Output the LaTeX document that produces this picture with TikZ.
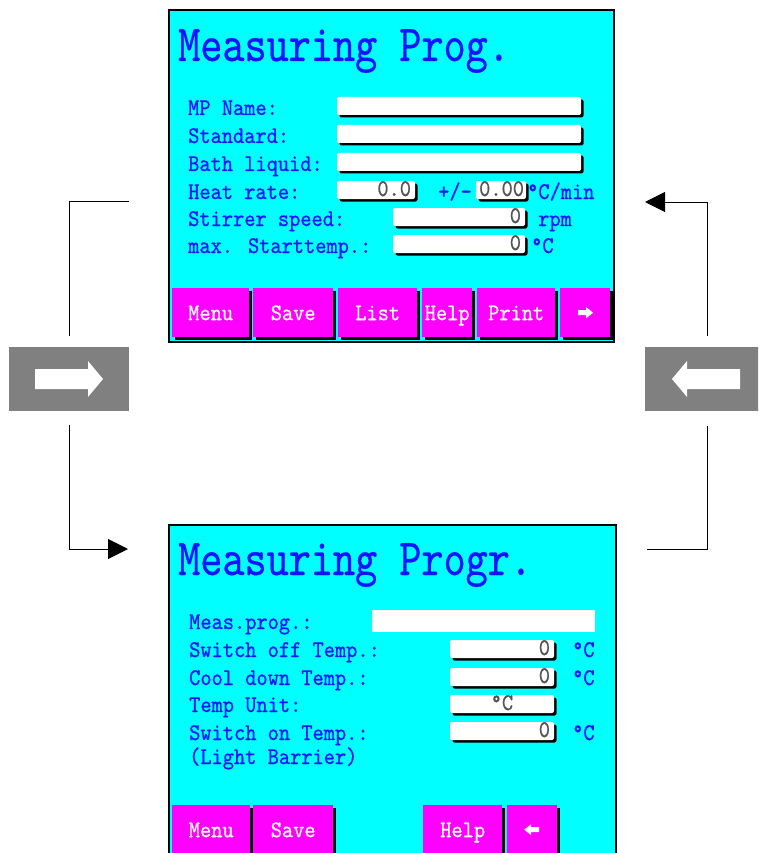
\documentclass[tikz,border=0pt]{standalone}
\usepackage{fontspec}
\newfontfamily\lcdfont{lmmono10-regular.otf}[FakeStretch=0.89, FakeBold=0.6]
\newfontfamily\lcdtitlefont{lmmono10-regular.otf}[FakeStretch=0.81, FakeBold=0.5]
\usetikzlibrary{arrows.meta,shadows}

\definecolor{lcdcyan}{RGB}{0,255,255}
\definecolor{lcdpink}{RGB}{255,0,255}
\definecolor{lcdblue}{RGB}{20,20,255}
\definecolor{keygray}{RGB}{128,128,128}
\definecolor{valgray}{RGB}{85,85,85}

\tikzset{
	screen/.style={draw=black, line width=2pt, fill=lcdcyan, anchor=north west, inner sep=0pt},
	scrtitle/.style={anchor=base west, inner sep=0pt, text=lcdblue, font=\lcdtitlefont\fontsize{52}{52}\selectfont},
	lcdtext/.style={anchor=base west, inner sep=0pt, text=lcdblue, font=\lcdfont\fontsize{24}{24}\selectfont},
	field/.style={fill=white, rounded corners=2pt, text=valgray, text width=#1, align=right,
		inner xsep=4pt, inner ysep=0pt, text height=15pt, text depth=3pt,
		font=\lcdfont\fontsize{24}{24}\selectfont,
		drop shadow={shadow xshift=2.5pt, shadow yshift=-2.5pt, fill=black, opacity=1}},
	softkey/.style={fill=lcdpink, minimum width=#1, minimum height=49pt, anchor=north west,
		inner sep=0pt, text height=15pt, text depth=0pt, text=white,
		font=\lcdfont\fontsize{24}{24}\selectfont,
		drop shadow={shadow xshift=2.5pt, shadow yshift=-2.5pt, fill=black, opacity=1}},
	navbox/.style={fill=keygray, minimum height=64pt, inner sep=0pt},
	link/.style={draw=black, line width=1pt},
	tip/.style={-{Triangle[length=20pt,width=20pt]}}
}

\begin{document}
\begin{tikzpicture}[x=1pt, y=-1pt]
		\clip (0,0) rectangle (758,853);

		\node (scrA)[screen, minimum width=445pt, minimum height=332pt] at (168,9) {};
		\node (titleA)[scrtitle] at (178,61) {Measuring Prog.};

		\node (nameA)[lcdtext] at (188,115) {MP Name:};
		\node (stdA)[lcdtext] at (188,143) {Standard:};
		\node (bathA)[lcdtext] at (188,171) {Bath liquid:};
		\node (rateA)[lcdtext] at (188,199) {Heat rate:};
		\node (stirA)[lcdtext] at (188,226) {Stirrer speed:};
		\node (startA)[lcdtext] at (188,253) {max. Starttemp.:};

		\node (fName)[field=236pt] at (459,106) {};
		\node (fStd)[field=236pt] at (459,134) {};
		\node (fBath)[field=236pt] at (459,162) {};
		\node (fRate)[field=70pt] at (376,190) {0.0};
		\node (pm)[lcdtext] at (438,199) {+/-};
		\node (fTol)[field=46pt, inner xsep=2pt] at (501,190) {0.00};
		\node (uRate)[lcdtext] at (527,199) {°C/min};
		\node (fStir)[field=124pt] at (459,217) {0};
		\node (uStir)[lcdtext] at (538,226) {rpm};
		\node (fStart)[field=124pt] at (459,244) {0};
		\node (uStart)[lcdtext] at (531,253) {°C};

		\node (menuA)[softkey=77pt] at (172,288) {Menu};
		\node (saveA)[softkey=80pt] at (253,288) {Save};
		\node (listA)[softkey=79pt] at (338,288) {List};
		\node (helpA)[softkey=50pt] at (422,288) {Help};
		\node (printA)[softkey=78pt] at (477,288) {Print};
		\node (nextA)[softkey=50pt] at (560,288) {};
		\fill [white, shift={(nextA.center)}] (-7,-2.5) -- (1,-2.5) -- (1,-5.5) -- (8,0) -- (1,5.5) -- (1,2.5) -- (-7,2.5) -- cycle;

		\node (scrB)[screen, minimum width=447pt, minimum height=340pt] at (168,524) {};
		\node (titleB)[scrtitle] at (178,575) {Measuring Progr.};

		\node (progB)[lcdtext] at (189,629) {Meas.prog.:};
		\node (offB)[lcdtext] at (189,657) {Switch off Temp.:};
		\node (coolB)[lcdtext] at (189,685) {Cool down Temp.:};
		\node (unitB)[lcdtext] at (189,712) {Temp Unit:};
		\node (onB)[lcdtext] at (189,740) {Switch on Temp.:};
		\node (barB)[lcdtext] at (189,764) {(Light Barrier)};

		\node (fProg)[fill=white, minimum width=223pt, minimum height=22pt, inner sep=0pt] at (483.5,621) {};
		\node (fOff)[field=96pt] at (502,649) {0};
		\node (uOff)[lcdtext] at (572,657) {°C};
		\node (fCool)[field=96pt] at (502,677) {0};
		\node (uCool)[lcdtext] at (572,685) {°C};
		\node (fUnit)[field=96pt, align=center] at (502,704) {°C};
		\node (fOn)[field=96pt] at (502,731) {0};
		\node (uOn)[lcdtext] at (572,740) {°C};

		\node (menuB)[softkey=78pt] at (172,805) {Menu};
		\node (saveB)[softkey=80pt] at (253,805) {Save};
		\node (helpB)[softkey=79pt] at (423,805) {Help};
		\node (prevB)[softkey=50pt] at (507,805) {};
		\fill [white, shift={(prevB.center)}, xscale=-1] (-7,-2.5) -- (1,-2.5) -- (1,-5.5) -- (8,0) -- (1,5.5) -- (1,2.5) -- (-7,2.5) -- cycle;

		\node (fwd)[navbox, minimum width=120pt] at (69,379) {};
		\fill [white, shift={(fwd.center)}] (-34,-10) -- (19,-10) -- (19,-18) -- (34,0) -- (19,18) -- (19,10) -- (-34,10) -- cycle;
		\node (back)[navbox, minimum width=124pt] at (707,379) {};
		\fill [white, shift={(back.center)}, xscale=-1] (-33,-10) -- (20,-10) -- (20,-18) -- (35,0) -- (20,18) -- (20,10) -- (-33,10) -- cycle;

		\coordinate (inA) at (129,201);
		\coordinate (outA) at (128,549);
		\coordinate (inB) at (645,202);
		\coordinate (outB) at (647,549);

		\draw [link, shorten >=11pt](inA) -| (fwd);
		\draw [link, tip, shorten <=14pt](fwd) |- (outA);
		\draw [link, shorten <=15pt](back) |- (outB);
		\draw [link, tip, shorten <=11pt](back) |- (inB);
	\end{tikzpicture}
\end{document}
